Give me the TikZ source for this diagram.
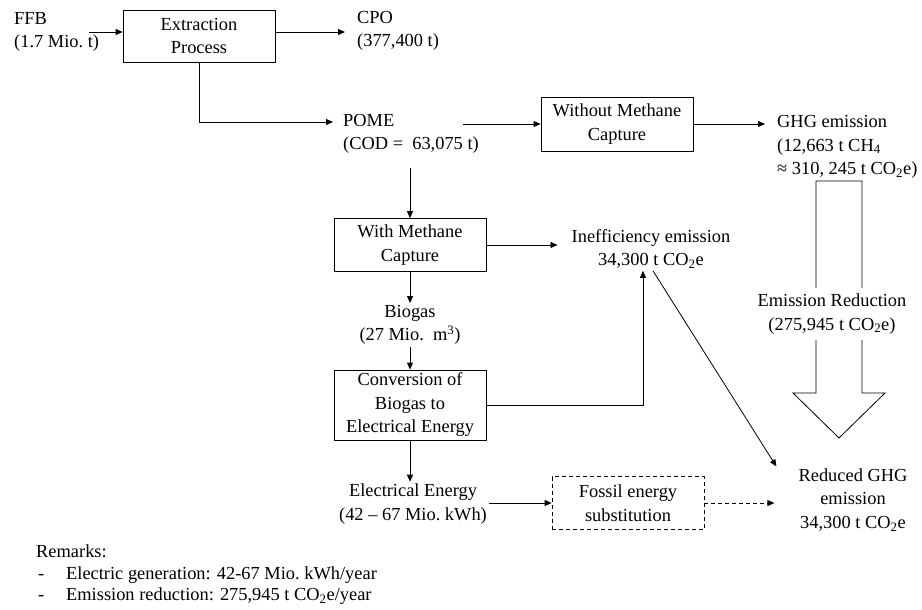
\documentclass[tikz,border=0pt]{standalone}
\usepackage{fontspec}
\setmainfont{Liberation Serif}
\usetikzlibrary{arrows.meta}
\tikzset{
  arr/.style={line width=0.8pt, -{Triangle[length=7pt, width=6pt]}},
  box/.style={draw, line width=0.8pt, minimum width=152pt, align=center, inner sep=2pt},
  txt/.style={inner sep=2pt, align=left},
  ctxt/.style={inner sep=2pt, align=center},
}

\begin{document}
\begin{tikzpicture}[x=1pt, y=-1pt, font=\fontsize{18.4}{23.5}\selectfont]
  \useasboundingbox (0,0) rectangle (922,610);
  % top row
  \node[txt, anchor=west] (FFB) at (12,32) {FFB\\(1.7 Mio.\ t)};
  \node[box, minimum height=52pt] (Ext) at (199,36) {Extraction\\Process};
  \node[txt, anchor=west] (CPO) at (355,31) {CPO\\(377,400 t)};
  \draw[arr] ([xshift=-12pt]FFB.east) -- (Ext.west |- FFB.east);
  \draw[arr, shorten >=10pt] (Ext.east |- FFB.east) -- (CPO.west |- FFB.east);
  % POME and the case without capture
  \node[txt, anchor=west] (POME) at (341,134) {POME\\(COD = \ 63,075 t)};
  \node[box, minimum height=54pt] (WithoutMC) at (617,124) {Without Methane\\Capture};
  \node[txt, anchor=west] (GHG) at (775,147) {GHG emission\\(12,663 t CH\textsubscript{4}\\≈ 310, 245 t CO\textsubscript{2}e)};
  \draw[arr, shorten >=8pt] (Ext.south) |- ([yshift=12pt]POME.west);
  \draw[arr] ([xshift=-18pt]POME.east |- WithoutMC.west) -- (WithoutMC.west);
  \draw[arr, shorten >=10pt] (WithoutMC.east) -- (GHG.west |- WithoutMC.east);
  % the case with capture
  \node[box, minimum height=53pt] (WithMC) at (410,245) {With Methane\\Capture};
  \node[ctxt] (Ineff) at (651,249) {Inefficiency emission\\34,300 t CO\textsubscript{2}e};
  \node[ctxt] (Biogas) at (410,325) {Biogas\\(27 Mio.\ \ m\textsuperscript{3})};
  \node[box, minimum height=70pt] (Conv) at (410,405) {Conversion of\\Biogas to\\Electrical Energy};
  \node[ctxt] (Elec) at (413,504) {Electrical Energy\\(42 -- 67 Mio.\ kWh)};
  \node[box, dash pattern=on 4pt off 3pt, minimum height=53pt] (Fossil) at (628,503) {Fossil energy\\substitution};
  \node[ctxt] (Reduced) at (853,500) {Reduced GHG\\emission\\34,300 t CO\textsubscript{2}e};
  \draw[arr, shorten <=12pt] (WithMC.north |- POME.south) -- (WithMC.north);
  \draw[arr, shorten >=12pt] (WithMC.east) -- (Ineff.west |- WithMC.east);
  \draw[arr] (WithMC.south) -- (Biogas.north);
  \draw[arr] (Biogas.south) -- (Conv.north);
  \draw[arr] (Conv.east) -| ([xshift=-8pt]Ineff.south);
  \draw[arr] ([xshift=2pt]Ineff.south) -- ([xshift=-20pt]Reduced.north west);
  \draw[arr] (Conv.south) -- (Conv.south |- Elec.north);
  \draw[arr] (Elec.east |- Fossil.west) -- (Fossil.west);
  \draw[arr, dash pattern=on 4pt off 3pt, shorten >=22pt] (Fossil.east) -- (Reduced.west |- Fossil.east);
  % big hollow arrow
  \draw[line width=0.8pt] (816,181) -- (816,393) -- (793,393) -- (839,438)
    -- (885,393) -- (862,393) -- (862,181) -- cycle;
  \node[ctxt, fill=white, inner ysep=6pt] (EmRed) at (832,314) {Emission Reduction\\(275,945 t CO\textsubscript{2}e)};
  % remarks
  \node[txt, anchor=north west, font=\fontsize{18.4}{21.5}\selectfont] (Remarks) at (34,543) {Remarks:\\
    \makebox[30pt][l]{\hspace{2pt}-}Electric generation: 42-67 Mio.\ kWh/year\\
    \makebox[30pt][l]{\hspace{2pt}-}Emission reduction: 275,945 t CO\textsubscript{2}e/year};
\end{tikzpicture}
\end{document}
